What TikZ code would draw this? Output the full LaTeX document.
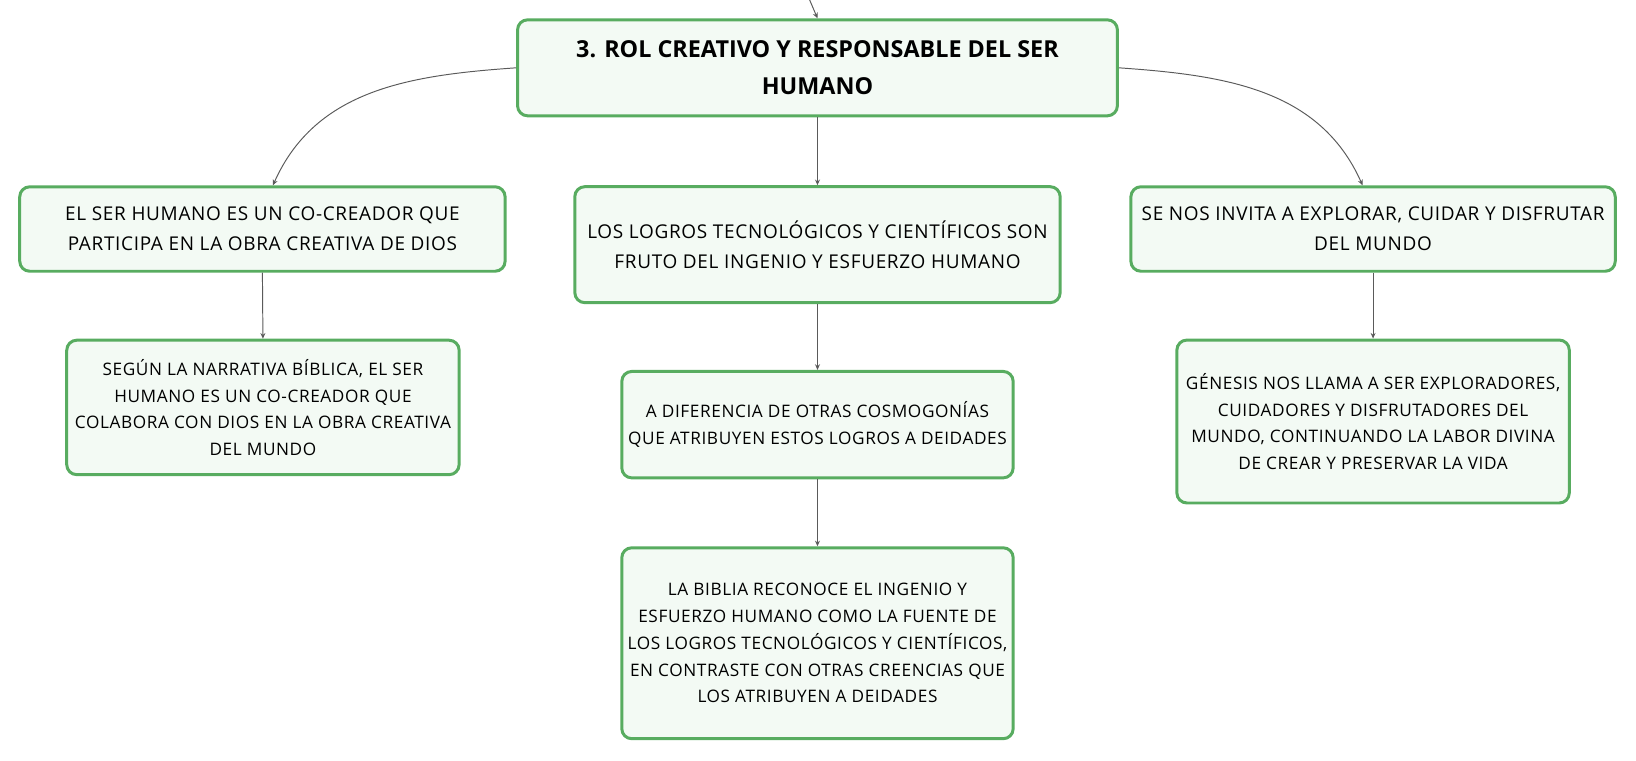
\documentclass[tikz,border=0pt]{standalone}
\usepackage{fontspec}
\setmainfont{Open Sans}
\newfontfamily\topicfont{Open Sans}[LetterSpace=3.6]
\newfontfamily\subtopicfont{Open Sans}[LetterSpace=3.5]
\usetikzlibrary{arrows.meta}
\definecolor{boxgreen}{RGB}{88,172,96}
\definecolor{boxfill}{RGB}{243,250,244}
\definecolor{linkgray}{RGB}{90,90,90}
\tikzset{
    topic/.style={draw=boxgreen, fill=boxfill, line width=1.7pt, rounded corners=0.2cm,
            align=center, inner sep=0pt, font=\topicfont\fontsize{10.8}{17.1}\selectfont},
    subtopic/.style={topic, font=\subtopicfont\fontsize{9.8}{15.2}\selectfont},
    roottopic/.style={topic, font=\rmfamily\fontsize{13.3}{20.9}\selectfont\bfseries},
    link/.style={draw=linkgray, line width=0.55pt, -{Stealth[length=3.2pt,width=2.8pt]}}
}
\begin{document}
\begin{tikzpicture}[x=0.020877cm, y=0.020877cm]
            \useasboundingbox (0,0) rectangle (1568,-728.5);
            % main topic and its three branches
            \node[roottopic, minimum width=12cm, minimum height=1.92cm] (root) at (783.5,-65)
                {3. ROL CREATIVO Y RESPONSABLE DEL SER\\HUMANO};
            \node[topic, minimum width=9.71cm, minimum height=1.69cm] (creator) at (251.5,-219.5)
                {EL SER HUMANO ES UN CO-CREADOR QUE\\PARTICIPA EN LA OBRA CREATIVA DE DIOS};
            \node[topic, minimum width=9.71cm, minimum height=2.32cm] (logros) at (783.5,-234.5)
                {LOS LOGROS TECNOLÓGICOS Y CIENTÍFICOS SON\\FRUTO DEL INGENIO Y ESFUERZO HUMANO};
            \node[topic, minimum width=9.69cm, minimum height=1.69cm] (mundo) at (1316,-219.5)
                {SE NOS INVITA A EXPLORAR, CUIDAR Y DISFRUTAR\\DEL MUNDO};
            % details
            \node[subtopic, minimum width=7.85cm, minimum height=2.69cm] (biblica) at (252,-390.5)
                {SEGÚN LA NARRATIVA BÍBLICA, EL SER\\HUMANO ES UN CO-CREADOR QUE\\COLABORA CON DIOS EN LA OBRA CREATIVA\\DEL MUNDO};
            \node[subtopic, minimum width=7.83cm, minimum height=2.13cm] (cosmo) at (783.5,-407)
                {A DIFERENCIA DE OTRAS COSMOGONÍAS\\QUE ATRIBUYEN ESTOS LOGROS A DEIDADES};
            \node[subtopic, minimum width=7.83cm, minimum height=3.82cm] (ingenio) at (783.5,-616.5)
                {LA BIBLIA RECONOCE EL INGENIO Y\\ESFUERZO HUMANO COMO LA FUENTE DE\\LOS LOGROS TECNOLÓGICOS Y CIENTÍFICOS,\\EN CONTRASTE CON OTRAS CREENCIAS QUE\\LOS ATRIBUYEN A DEIDADES};
            \node[subtopic, minimum width=7.85cm, minimum height=3.26cm] (genesis) at (1316,-404)
                {GÉNESIS NOS LLAMA A SER EXPLORADORES,\\CUIDADORES Y DISFRUTADORES DEL\\MUNDO, CONTINUANDO LA LABOR DIVINA\\DE CREAR Y PRESERVAR LA VIDA};
            \coordinate (parent) at (776,0);
            \draw[link] (parent) -- (root.north);
            \draw[link] (root.west) to[out=184, in=66] ([xshift=6]creator.north);
            \draw[link] (root.east) to[out=-4, in=114] ([xshift=-6]mundo.north);
            \draw[link] (root.south) -- (logros.north);
            \draw[link] (logros.south) -- (cosmo.north);
            \draw[link] (cosmo.south) -- (ingenio.north);
            \draw[link] (creator.south) -- (biblica.north);
            \draw[link] (mundo.south) -- (genesis.north);
        \end{tikzpicture}
\end{document}
